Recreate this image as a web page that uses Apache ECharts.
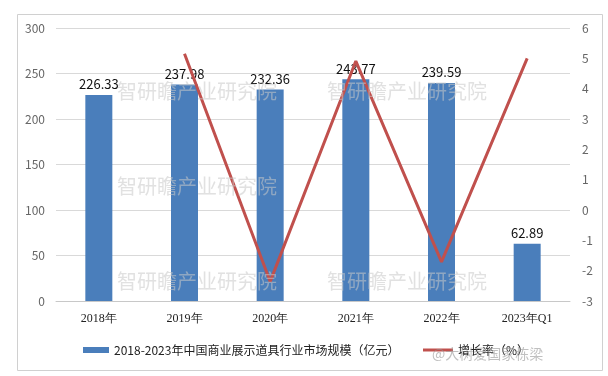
<!DOCTYPE html>
<html>
<head>
<meta charset="utf-8">
<script src="https://cdn.jsdelivr.net/npm/echarts@6/dist/echarts.min.js"></script>
<style>
  html, body { margin: 0; padding: 0; background: #fff; }
  #main { width: 608px; height: 376px; }
</style>
</head>
<body>
<div id="main"></div>
<script>
// 类目
var categories = ['2018年', '2019年', '2020年', '2021年', '2022年', '2023年Q1'];
// 市场规模（亿元）
var scaleValues = [226.33, 237.98, 232.36, 243.77, 239.59, 62.89];
// 增长率（%）
var growthValues = [null, 5.15, -2.36, 4.91, -1.71, 5.0];

var barName = '2018-2023年中国商业展示道具行业市场规模（亿元）';
var lineName = '增长率（%）';

var chart = echarts.init(document.getElementById('main'));

// 水印
var wmText = '智研瞻产业研究院';
var wmPos = [[117, 81], [327, 81], [117, 176], [117, 271], [327, 271]];
var wm = wmPos.map(function (p) {
    return {
        type: 'text', left: p[0], top: p[1], z: 100,
        style: { text: wmText, fontSize: 20, fill: 'rgba(200,200,200,0.55)', fontFamily: 'Noto Sans CJK SC' }
    };
});

var option = {
    backgroundColor: '#fff',
    animation: false,
    textStyle: { fontFamily: 'Noto Sans CJK SC' },
    graphic: [
        {
            type: 'rect', left: 15, top: 12, z: -1,
            shape: { width: 585, height: 356 },
            style: { fill: 'none', stroke: '#d0d0d0', lineWidth: 1 }
        },
        {
            type: 'text', left: 432, top: 347, z: 100,
            style: { text: '@大树爱国家栋梁', fontSize: 14, fill: 'rgba(150,150,150,0.6)', fontFamily: 'Noto Sans CJK SC' }
        }
    ].concat(wm),
    grid: { left: 56, right: 38, top: 28, bottom: 75 },
    legend: [
        {
            top: 339,
            left: 78,
            itemWidth: 26,
            itemHeight: 6,
            itemGap: 4,
            textStyle: { fontSize: 12, color: '#222' },
            data: [{ name: barName, icon: 'rect' }]
        },
        {
            top: 339,
            left: 418,
            itemWidth: 30,
            itemHeight: 3,
            textStyle: { fontSize: 12, color: '#222' },
            data: [{ name: lineName, icon: 'rect' }]
        }
    ],
    xAxis: {
        type: 'category',
        data: categories,
        axisTick: { show: false },
        axisLine: { lineStyle: { color: '#c8c8c8' } },
        axisLabel: { color: '#222', fontSize: 12, margin: 12, fontFamily: 'Liberation Serif' }
    },
    yAxis: [
        {
            type: 'value',
            min: 0, max: 300, interval: 50,
            axisLine: { show: false },
            axisTick: { show: false },
            axisLabel: { color: '#666', fontSize: 12, margin: 11 },
            splitLine: { lineStyle: { color: '#d9d9d9' } }
        },
        {
            type: 'value',
            min: -3, max: 6, interval: 1,
            axisLine: { show: false },
            axisTick: { show: false },
            axisLabel: { color: '#666', fontSize: 12, margin: 12 },
            splitLine: { show: false }
        }
    ],
    series: [
        {
            name: barName,
            type: 'bar',
            data: scaleValues,
            barWidth: 27,
            itemStyle: { color: '#4a7ebb' },
            label: { show: true, position: 'top', color: '#111', fontSize: 13, distance: 4 }
        },
        {
            name: lineName,
            type: 'line',
            yAxisIndex: 1,
            data: growthValues,
            symbol: 'none',
            z: 5,
            lineStyle: { color: '#c0504d', width: 3 },
            itemStyle: { color: '#c0504d' }
        }
    ]
};
chart.setOption(option);
</script>
</body>
</html>
